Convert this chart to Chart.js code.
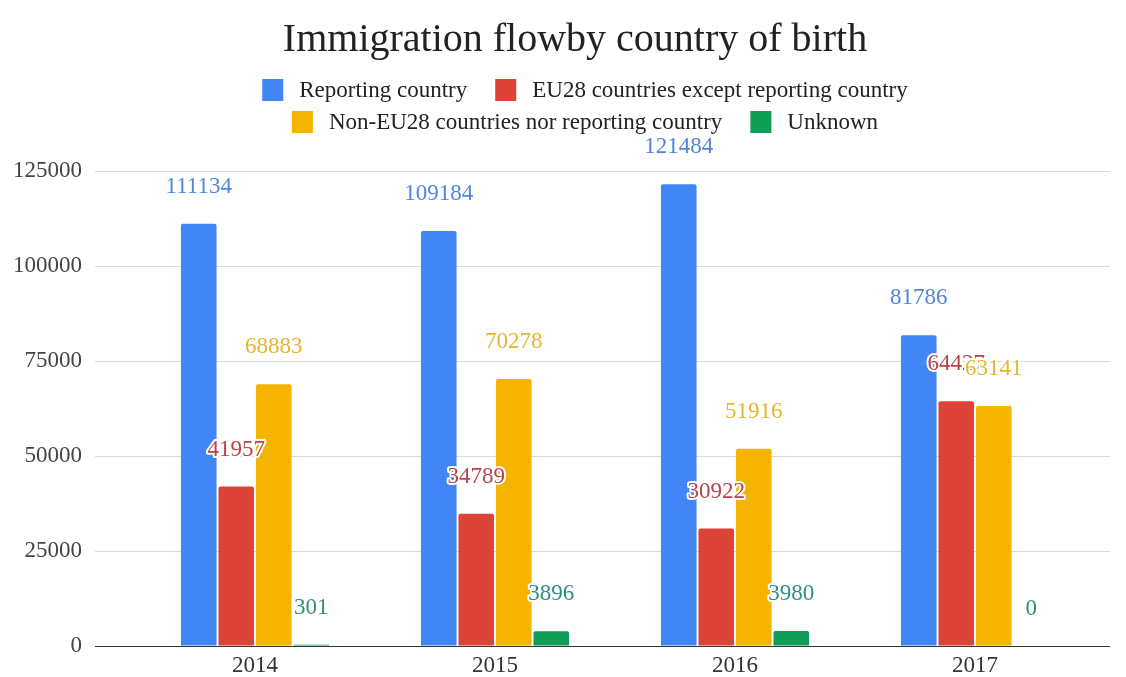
<!DOCTYPE html>
<html>
<head>
<meta charset="utf-8">
<script src="https://cdn.jsdelivr.net/npm/chart.js@4"></script>
<style>
  html, body { margin: 0; padding: 0; background: #fff; }
  #wrap { width: 1126px; height: 677px; }
</style>
</head>
<body>
<div id="wrap"><canvas id="flowChart"></canvas></div>
<script>
const chartTitle = 'Immigration flowby country of birth';
const years = ['2014', '2015', '2016', '2017'];
const seriesNames = [
    'Reporting country',
    'EU28 countries except reporting country',
    'Non-EU28 countries nor reporting country',
    'Unknown'
];
const reportingCountry = [111134, 109184, 121484, 81786];
const eu28Countries = [41957, 34789, 30922, 64427];
const nonEu28Countries = [68883, 70278, 51916, 63141];
const unknownCountry = [301, 3896, 3980, 0];
const yTicks = [0, 25000, 50000, 75000, 100000, 125000];

const barColors = ['#4285f4', '#db4437', '#f4b400', '#0f9d58'];
const labelColors = ['#4f86d6', '#b8434a', '#e2b72e', '#2f8f7a'];
const serif = "'Liberation Serif', 'DejaVu Serif', serif";

// titulo y leyenda en dos filas, dibujados a mano
const headerPlugin = {
    id: 'header',
    afterDraw(chart) {
        const ctx = chart.ctx;
        const top = chart.chartArea.top;
        ctx.save();
        ctx.fillStyle = '#222';
        ctx.textAlign = 'center';
        ctx.textBaseline = 'middle';
        ctx.font = '40px ' + serif;
        ctx.fillText(chartTitle, chart.width / 2 + 12, top - 131);

        ctx.font = '23px ' + serif;
        ctx.textAlign = 'left';
        const rows = [[0, 1], [2, 3]];
        const boxW = 21, boxH = 22, gapText = 16, gapItem = 28;
        rows.forEach(function(row, r) {
            const y = top - 81 + r * 32;
            let total = 0;
            row.forEach(function(i, k) {
                total += boxW + gapText + ctx.measureText(seriesNames[i]).width;
                if (k < row.length - 1) total += gapItem;
            });
            let x = chart.width / 2 + 22 - total / 2;
            row.forEach(function(i) {
                ctx.fillStyle = barColors[i];
                ctx.fillRect(x, y - boxH / 2, boxW, boxH);
                x += boxW + gapText;
                ctx.fillStyle = '#222';
                ctx.fillText(seriesNames[i], x, y + 1);
                x += ctx.measureText(seriesNames[i]).width + gapItem;
            });
        });
        ctx.restore();
    }
};

// prolonga las lineas horizontales un poco a la derecha
const gridExtendPlugin = {
    id: 'gridExtend',
    beforeDatasetsDraw(chart) {
        const ctx = chart.ctx;
        const yScale = chart.scales.y;
        const right = chart.chartArea.right;
        ctx.save();
        yScale.ticks.forEach(function(t) {
            const y = Math.round(yScale.getPixelForValue(t.value)) + 0.5;
            ctx.strokeStyle = t.value === 0 ? '#333' : '#dadada';
            ctx.lineWidth = 1;
            ctx.beginPath();
            ctx.moveTo(right, y);
            ctx.lineTo(right + 15, y);
            ctx.stroke();
        });
        ctx.restore();
    }
};

// etiquetas de valor encima de cada barra
const valueLabelPlugin = {
    id: 'valueLabels',
    afterDatasetsDraw(chart) {
        const ctx = chart.ctx;
        ctx.save();
        ctx.font = '23px ' + serif;
        ctx.textAlign = 'center';
        ctx.textBaseline = 'middle';
        ctx.lineJoin = 'round';
        chart.data.datasets.forEach(function(ds, di) {
            const meta = chart.getDatasetMeta(di);
            meta.data.forEach(function(bar, i) {
                const text = String(ds.data[i]);
                const y = bar.y - 37;
                ctx.strokeStyle = '#fff';
                ctx.lineWidth = 4;
                ctx.strokeText(text, bar.x, y);
                ctx.fillStyle = labelColors[di];
                ctx.fillText(text, bar.x, y);
            });
        });
        ctx.restore();
    }
};

const seriesData = [reportingCountry, eu28Countries, nonEu28Countries, unknownCountry];

const ctx = document.getElementById('flowChart').getContext('2d');
new Chart(ctx, {
    type: 'bar',
    data: {
        labels: years,
        datasets: seriesData.map(function(values, i) {
            return {
                label: seriesNames[i],
                data: values,
                backgroundColor: barColors[i],
                borderWidth: 0,
                borderRadius: 2,
                categoryPercentage: 0.625,
                barPercentage: 0.95
            };
        })
    },
    options: {
        responsive: true,
        maintainAspectRatio: false,
        animation: false,
        layout: {
            padding: { top: 171, left: 0, right: 31, bottom: 0 }
        },
        plugins: {
            legend: { display: false },
            title: { display: false },
            tooltip: { enabled: false }
        },
        scales: {
            x: {
                grid: { display: false, drawTicks: false },
                border: { display: false },
                afterFit: function(scale) { scale.height = 31; },
                ticks: {
                    color: '#333',
                    padding: 6,
                    font: { family: serif, size: 23 }
                }
            },
            y: {
                min: 0,
                max: 125000,
                afterBuildTicks: function(scale) {
                    scale.ticks = yTicks.map(function(v) { return { value: v }; });
                },
                border: { display: false },
                grid: {
                    color: function(c) { return c.tick && c.tick.value === 0 ? '#333' : '#dadada'; },
                    tickLength: 40
                },
                ticks: {
                    color: '#444',
                    padding: 13,
                    font: { family: serif, size: 23 },
                    callback: function(value) { return String(value); }
                }
            }
        }
    },
    plugins: [gridExtendPlugin, valueLabelPlugin, headerPlugin]
});
</script>
</body>
</html>
